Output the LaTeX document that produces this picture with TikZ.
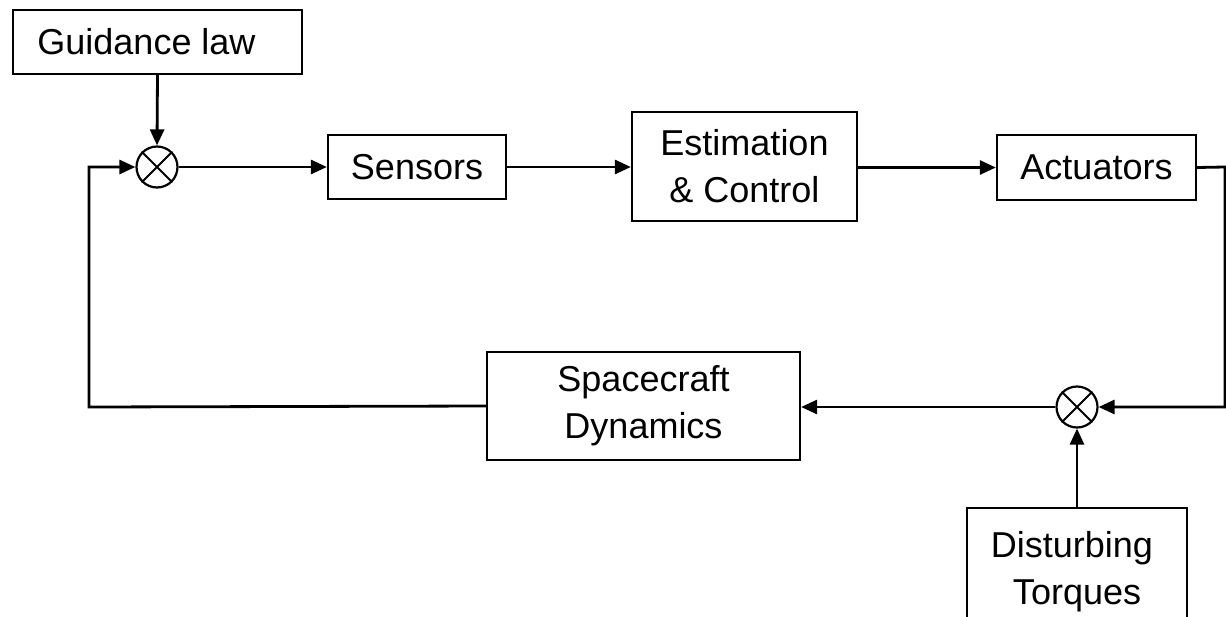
\documentclass[tikz,border=0pt]{standalone}
\usepackage{fontspec}
\setmainfont{Liberation Sans}
\usetikzlibrary{arrows.meta}
\begin{document}
\begin{tikzpicture}[x=1pt,y=-1pt,
  blk/.style={draw, line width=2.3pt, inner sep=0pt, align=center,
    font=\fontsize{36}{47}\selectfont},
  sumj/.style={draw, circle, line width=2.2pt, minimum size=41pt, inner sep=0pt},
  wire/.style={line width=2.8pt},
  arr/.style={wire, -{Triangle[length=16pt,width=14pt]}}]
\clip (0,0) rectangle (1226,616);
\fill[white] (0,0) rectangle (1226,616);
% blocks
\node[blk, minimum width=289pt, minimum height=64pt] (guid) at (157.5,42) {Guidance law\hspace*{22pt}};
\node[blk, minimum width=178pt, minimum height=64pt] (sens) at (417,167) {Sensors};
\node[blk, minimum width=225pt, minimum height=109pt] (est) at (744.5,166.5) {Estimation\\\& Control};
\node[blk, minimum width=199pt, minimum height=65pt] (act) at (1096.5,167.5) {Actuators};
\node[blk, minimum width=313pt, minimum height=108pt] (sc) at (643.5,406) {Spacecraft\\Dynamics};
\node[blk, minimum width=220pt, minimum height=128pt] (dist) at (1077,572) {Disturbing\hspace*{10pt}\\Torques};
% summing junctions
\node[sumj] (j1) at (157,167) {};
\draw[line width=1.8pt] (j1.north west) -- (j1.south east) (j1.north east) -- (j1.south west);
\node[sumj] (j2) at (1077,407) {};
\draw[line width=1.8pt] (j2.north west) -- (j2.south east) (j2.north east) -- (j2.south west);
% corner coordinates
\coordinate (fbl) at (89,407);
\coordinate (rt) at (1225,167);
\coordinate (rb) at (1225,407);
% connectors
\draw[arr] (guid.south) -- (j1.north);
\draw[arr] (sc.west) -- (fbl) |- (j1.west);
\draw[arr] (j1.east) -- (sens.west);
\draw[arr] (sens.east) -- (est.west |- sens.east);
\draw[arr] (est.east |- act.west) -- (act.west);
\draw[arr] (act.east) -- (rt) -- (rb) -- (j2.east);
\draw[arr] (j2.west) -- (sc.east |- j2.west);
\draw[arr] (dist.north) -- (j2.south);
\end{tikzpicture}
\end{document}
